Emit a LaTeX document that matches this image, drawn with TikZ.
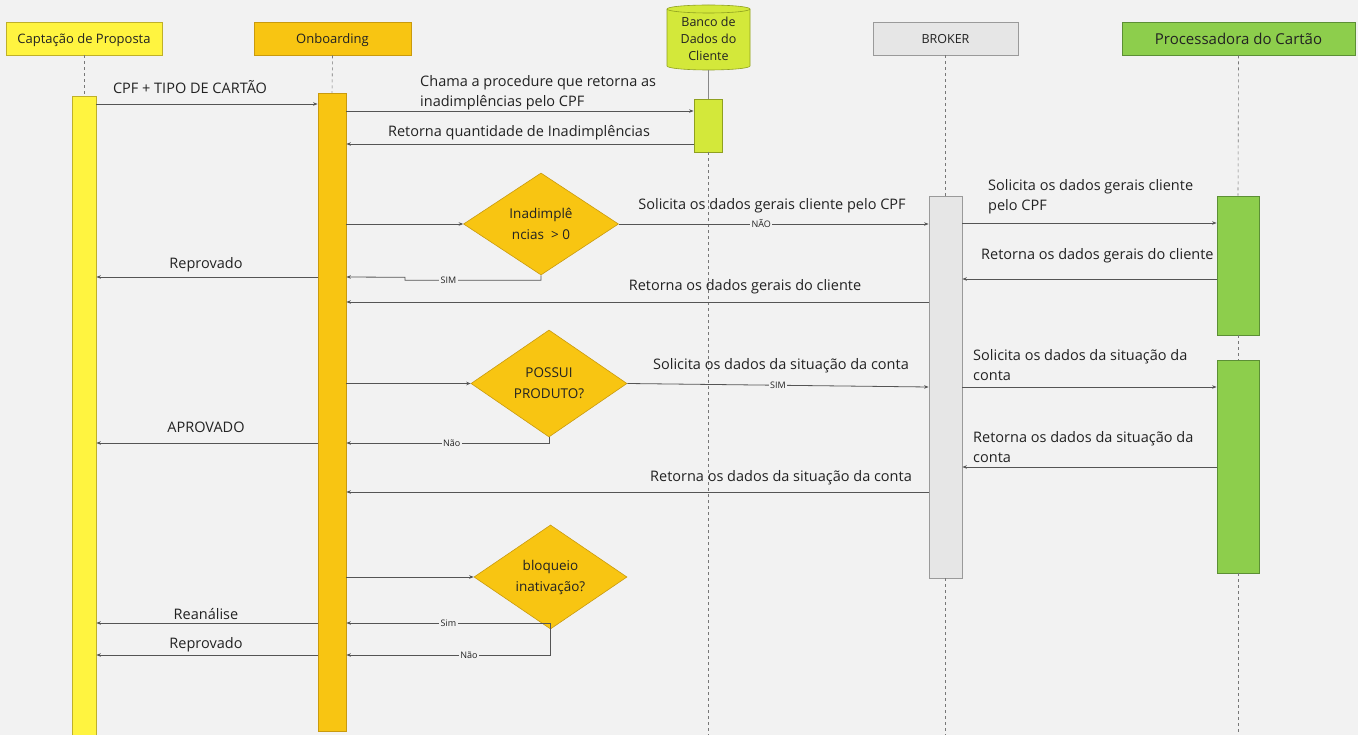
\documentclass[tikz,border=0pt]{standalone}
\usepackage{fontspec}
\setmainfont{Open Sans}
\usetikzlibrary{arrows.meta,shapes.geometric}
\definecolor{bg}{HTML}{F2F2F2}
\definecolor{capY}{HTML}{FFF440}
\definecolor{capB}{HTML}{BFB02A}
\definecolor{onY}{HTML}{F8C512}
\definecolor{onB}{HTML}{C99A0E}
\definecolor{dbG}{HTML}{D3E83A}
\definecolor{dbB}{HTML}{8FA020}
\definecolor{brG}{HTML}{E6E6E6}
\definecolor{brB}{HTML}{9A9A9A}
\definecolor{prG}{HTML}{8DCE4C}
\definecolor{prB}{HTML}{5C8F35}
\definecolor{ln}{HTML}{555555}
\definecolor{txt}{HTML}{222222}
\tikzset{
  head/.style={draw, line width=0.8pt, minimum height=33pt, inner sep=0pt, text=txt, text depth=0pt},
  bar/.style={draw, line width=0.8pt, inner sep=0pt},
  life/.style={draw=ln!80, dash pattern=on 3pt off 3pt, line width=0.6pt},
  msg/.style={draw=ln, line width=0.8pt, -{Stealth[length=4.5pt,width=3.5pt]}},
  lbl/.style={font=\fontsize{14.5}{20}\selectfont, text=txt, inner sep=0pt},
  tag/.style={fill=bg, font=\fontsize{9}{10}\selectfont, text=txt, inner sep=1.5pt},
  dec/.style={diamond, draw=onB, fill=onY, line width=0.6pt, inner sep=0pt, align=center,
    font=\fontsize{13.5}{21}\selectfont, text=txt},
}
\begin{document}
\begin{tikzpicture}[x=1pt,y=1pt]
\useasboundingbox (0,0) rectangle (1358,-735);
\fill[bg] (0,0) rectangle (1358,-735);

% row coordinates
\coordinate (r1) at (0,-104);
\coordinate (r2) at (0,-111);
\coordinate (r3) at (0,-144);
\coordinate (r5) at (0,-277);
\coordinate (r6) at (0,-302);
\coordinate (r7) at (0,-223);
\coordinate (r8) at (0,-279);
\coordinate (r10) at (0,-387);
\coordinate (r11) at (0,-443);
\coordinate (r12) at (0,-467);
\coordinate (r13) at (0,-492);
\coordinate (r15) at (0,-623);
\coordinate (r16) at (0,-655);
\coordinate (rb) at (0,-735);

% headers
\node[head, fill=capY, draw=capB, minimum width=156pt, font=\fontsize{13}{15}\selectfont] (cap) at (84,-38.5) {Captação de Proposta};
\node[head, fill=onY, draw=onB, minimum width=157pt, font=\fontsize{13}{15}\selectfont] (onb) at (332.5,-38.5) {Onboarding};
\node[head, fill=brG, draw=brB, minimum width=145pt, font=\fontsize{12.5}{14}\selectfont] (brk) at (945.5,-38.5) {BROKER};
\node[head, fill=prG, draw=prB, minimum width=233pt, font=\fontsize{15}{17}\selectfont] (prc) at (1238.5,-38.5) {Processadora do Cartão};

% database cylinder
\filldraw[fill=dbG, draw=dbB, line width=0.6pt]
  (667,-9) -- (667,-66) arc[start angle=180, end angle=360, x radius=41.5, y radius=4]
  -- (750,-9) arc[start angle=0, end angle=180, x radius=41.5, y radius=4] -- cycle;
\draw[dbB, line width=0.6pt] (667,-9) arc[start angle=180, end angle=360, x radius=41.5, y radius=4];
\node[align=center, inner sep=0pt, text=txt, font=\fontsize{12.5}{17}\selectfont] (db) at (708.5,-39) {Banco de\\Dados do\\Cliente};
\coordinate (dbbot) at (708,-70);

% activation bars
\node[bar, fill=capY, draw=capB, minimum width=24pt, minimum height=639pt] (capbar) at (84,-415.5) {};
\node[bar, fill=onY, draw=onB, minimum width=28pt, minimum height=638pt] (onbar) at (332,-412) {};
\node[bar, fill=dbG, draw=dbB, minimum width=28pt, minimum height=53pt] (dbbar) at (708,-125.5) {};
\node[bar, fill=brG, draw=brB, minimum width=33pt, minimum height=382pt] (brbar) at (945.5,-387) {};
\node[bar, fill=prG, draw=prB, minimum width=42pt, minimum height=139pt] (prbar1) at (1238,-265.5) {};
\node[bar, fill=prG, draw=prB, minimum width=42pt, minimum height=213pt] (prbar2) at (1238,-466.5) {};

% lifelines
\draw[life] (cap.south) -- (capbar.north);
\draw[life] (onb.south) -- (onbar.north);
\draw[draw=ln!70, line width=0.7pt] (dbbot) -- (dbbar.north);
\draw[life] (dbbar.south) -- (dbbar.south |- rb);
\draw[life] (brk.south) -- (brbar.north);
\draw[life] (brbar.south) -- (brbar.south |- rb);
\draw[life] (prc.south) -- (prbar1.north);
\draw[life] (prbar1.south) -- (prbar2.north);
\draw[life] (prbar2.south) -- (prbar2.south |- rb);

% diamonds
\node[dec, minimum width=155pt, minimum height=102pt] (d1) at (541,-224) {Inadimplê\\ncias\ \ > 0};
\node[dec, minimum width=156pt, minimum height=107pt] (d2) at (549,-383.5) {POSSUI\\PRODUTO?};
\node[dec, minimum width=153pt, minimum height=80pt] (d3) at (550.5,-577) {bloqueio\\inativação?};

% messages
\draw[msg] (capbar.east |- r1) -- (onbar.west |- r1);
\node[lbl] (m1) at (190,-87) {CPF + TIPO DE CARTÃO};

\draw[msg] (onbar.east |- r2) -- (dbbar.west |- r2);
\node[lbl, align=left, anchor=west] (m2) at (420,-92.5) {Chama a procedure que retorna as\\inadimplências pelo CPF};

\draw[msg] (dbbar.west |- r3) -- (onbar.east |- r3);
\node[lbl] (m3) at (519,-133) {Retorna quantidade de Inadimplências};

\draw[msg] (onbar.east |- d1.west) -- (d1.west);
\draw[msg] (d1.east) -- node[tag, pos=0.46] (t1) {NÃO} (brbar.west |- d1.east);
\node[lbl] (m4) at (772,-206) {Solicita os dados gerais cliente pelo CPF};

\draw[msg] (d1.south) -- ++(0,-5) -- node[tag, pos=0.68] (t2) {SIM} ++(-136,0) -- ++(0,3) -- (onbar.east |- r5);
\draw[msg] (onbar.west |- r5) -- (capbar.east |- r5);
\node[lbl] (m5) at (206,-265) {Reprovado};

\draw[msg] (brbar.west |- r6) -- (onbar.east |- r6);
\node[lbl] (m6) at (745,-287) {Retorna os dados gerais do cliente};

\draw[msg] (brbar.east |- r7) -- (prbar1.west |- r7);
\node[lbl, align=left, anchor=west] (m7) at (988,-196.5) {Solicita os dados gerais cliente\\pelo CPF};

\draw[msg] (prbar1.west |- r8) -- (brbar.east |- r8);
\node[lbl, anchor=west] (m8) at (981,-256) {Retorna os dados gerais do cliente};

\draw[msg] (onbar.east |- d2.west) -- (d2.west);
\draw[msg] (d2.east) -- node[tag, pos=0.5] (t3) {SIM} (brbar.west |- r10);
\node[lbl] (m9) at (781,-366) {Solicita os dados da situação da conta};

\draw[msg] (d2.south) |- node[tag, pos=0.74] (t4) {Não} (onbar.east |- r11);
\draw[msg] (onbar.west |- r11) -- (capbar.east |- r11);
\node[lbl] (m10) at (206,-427) {APROVADO};

\draw[msg] (brbar.east |- r10) -- (prbar2.west |- r10);
\node[lbl, align=left, anchor=west] (m11) at (973,-365.5) {Solicita os dados da situação da\\conta};

\draw[msg] (prbar2.west |- r12) -- (brbar.east |- r12);
\node[lbl, align=left, anchor=west] (m12) at (973,-447.5) {Retorna os dados da situação da\\conta};

\draw[msg] (brbar.west |- r13) -- (onbar.east |- r13);
\node[lbl] (m13) at (781,-478) {Retorna os dados da situação da conta};

\draw[msg] (onbar.east |- d3.west) -- (d3.west);
\draw[msg] (d3.south) |- node[tag, pos=0.75] (t5) {Sim} (onbar.east |- r15);
\draw[msg] (d3.south) |- node[tag, pos=0.70] (t6) {Não} (onbar.east |- r16);

\draw[msg] (onbar.west |- r15) -- (capbar.east |- r15);
\node[lbl] (m14) at (206,-614) {Reanálise};
\draw[msg] (onbar.west |- r16) -- (capbar.east |- r16);
\node[lbl] (m15) at (206,-645) {Reprovado};
\end{tikzpicture}
\end{document}
